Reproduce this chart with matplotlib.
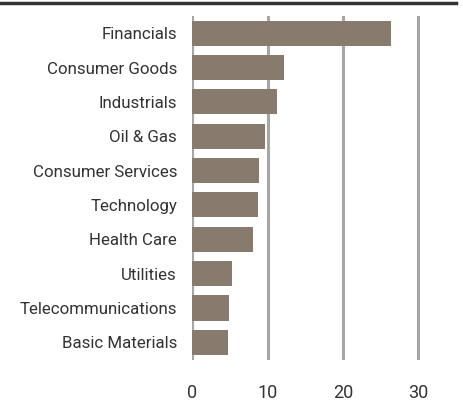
import matplotlib
matplotlib.use("Agg")
from matplotlib import pyplot as plt
from matplotlib.lines import Line2D

sectors = ["Financials", "Consumer Goods", "Industrials", "Oil & Gas",
           "Consumer Services", "Technology", "Health Care", "Utilities",
           "Telecommunications", "Basic Materials"]
weights = [26.4, 12.2, 11.3, 9.65, 8.9, 8.7, 8.0, 5.3, 4.9, 4.75]
ticks = [0, 10, 20, 30]

plt.rcParams['font.family'] = ['Roboto', 'DejaVu Sans']

fig = plt.figure(figsize=(4.64, 4.01), dpi=100)
# axes placed in pixel terms: left 192, right 456, top 16, bottom 359.5
W, H = 464, 401
ax = fig.add_axes([192.3 / W, 1 - 359.5 / H, (456 - 192.3) / W, (359.5 - 16) / H])

ypos = list(range(len(sectors)))
ax.barh(ypos, weights, height=0.73, color='#887a6c', zorder=3)
ax.set_ylim(len(sectors) - 0.5, -0.5)
ax.set_xlim(0, 35)
ax.set_yticks(ypos)
ax.set_yticklabels(sectors, fontsize=12.2, color='#333333')
ax.set_xticks(ticks)
ax.set_xticklabels([str(t) for t in ticks], fontsize=13, color='#333333')
ax.tick_params(length=0, axis='y', pad=11)
ax.tick_params(length=0, axis='x', pad=18)
for t in ticks:
    ax.axvline(t, color='#a6a6a6', lw=2.2, zorder=1)
for s in ax.spines.values():
    s.set_visible(False)

fig.add_artist(Line2D([0, 456 / W], [1 - 3 / H, 1 - 3 / H], color='#333333', lw=2.5))

fig.savefig("out.png", dpi=100)
